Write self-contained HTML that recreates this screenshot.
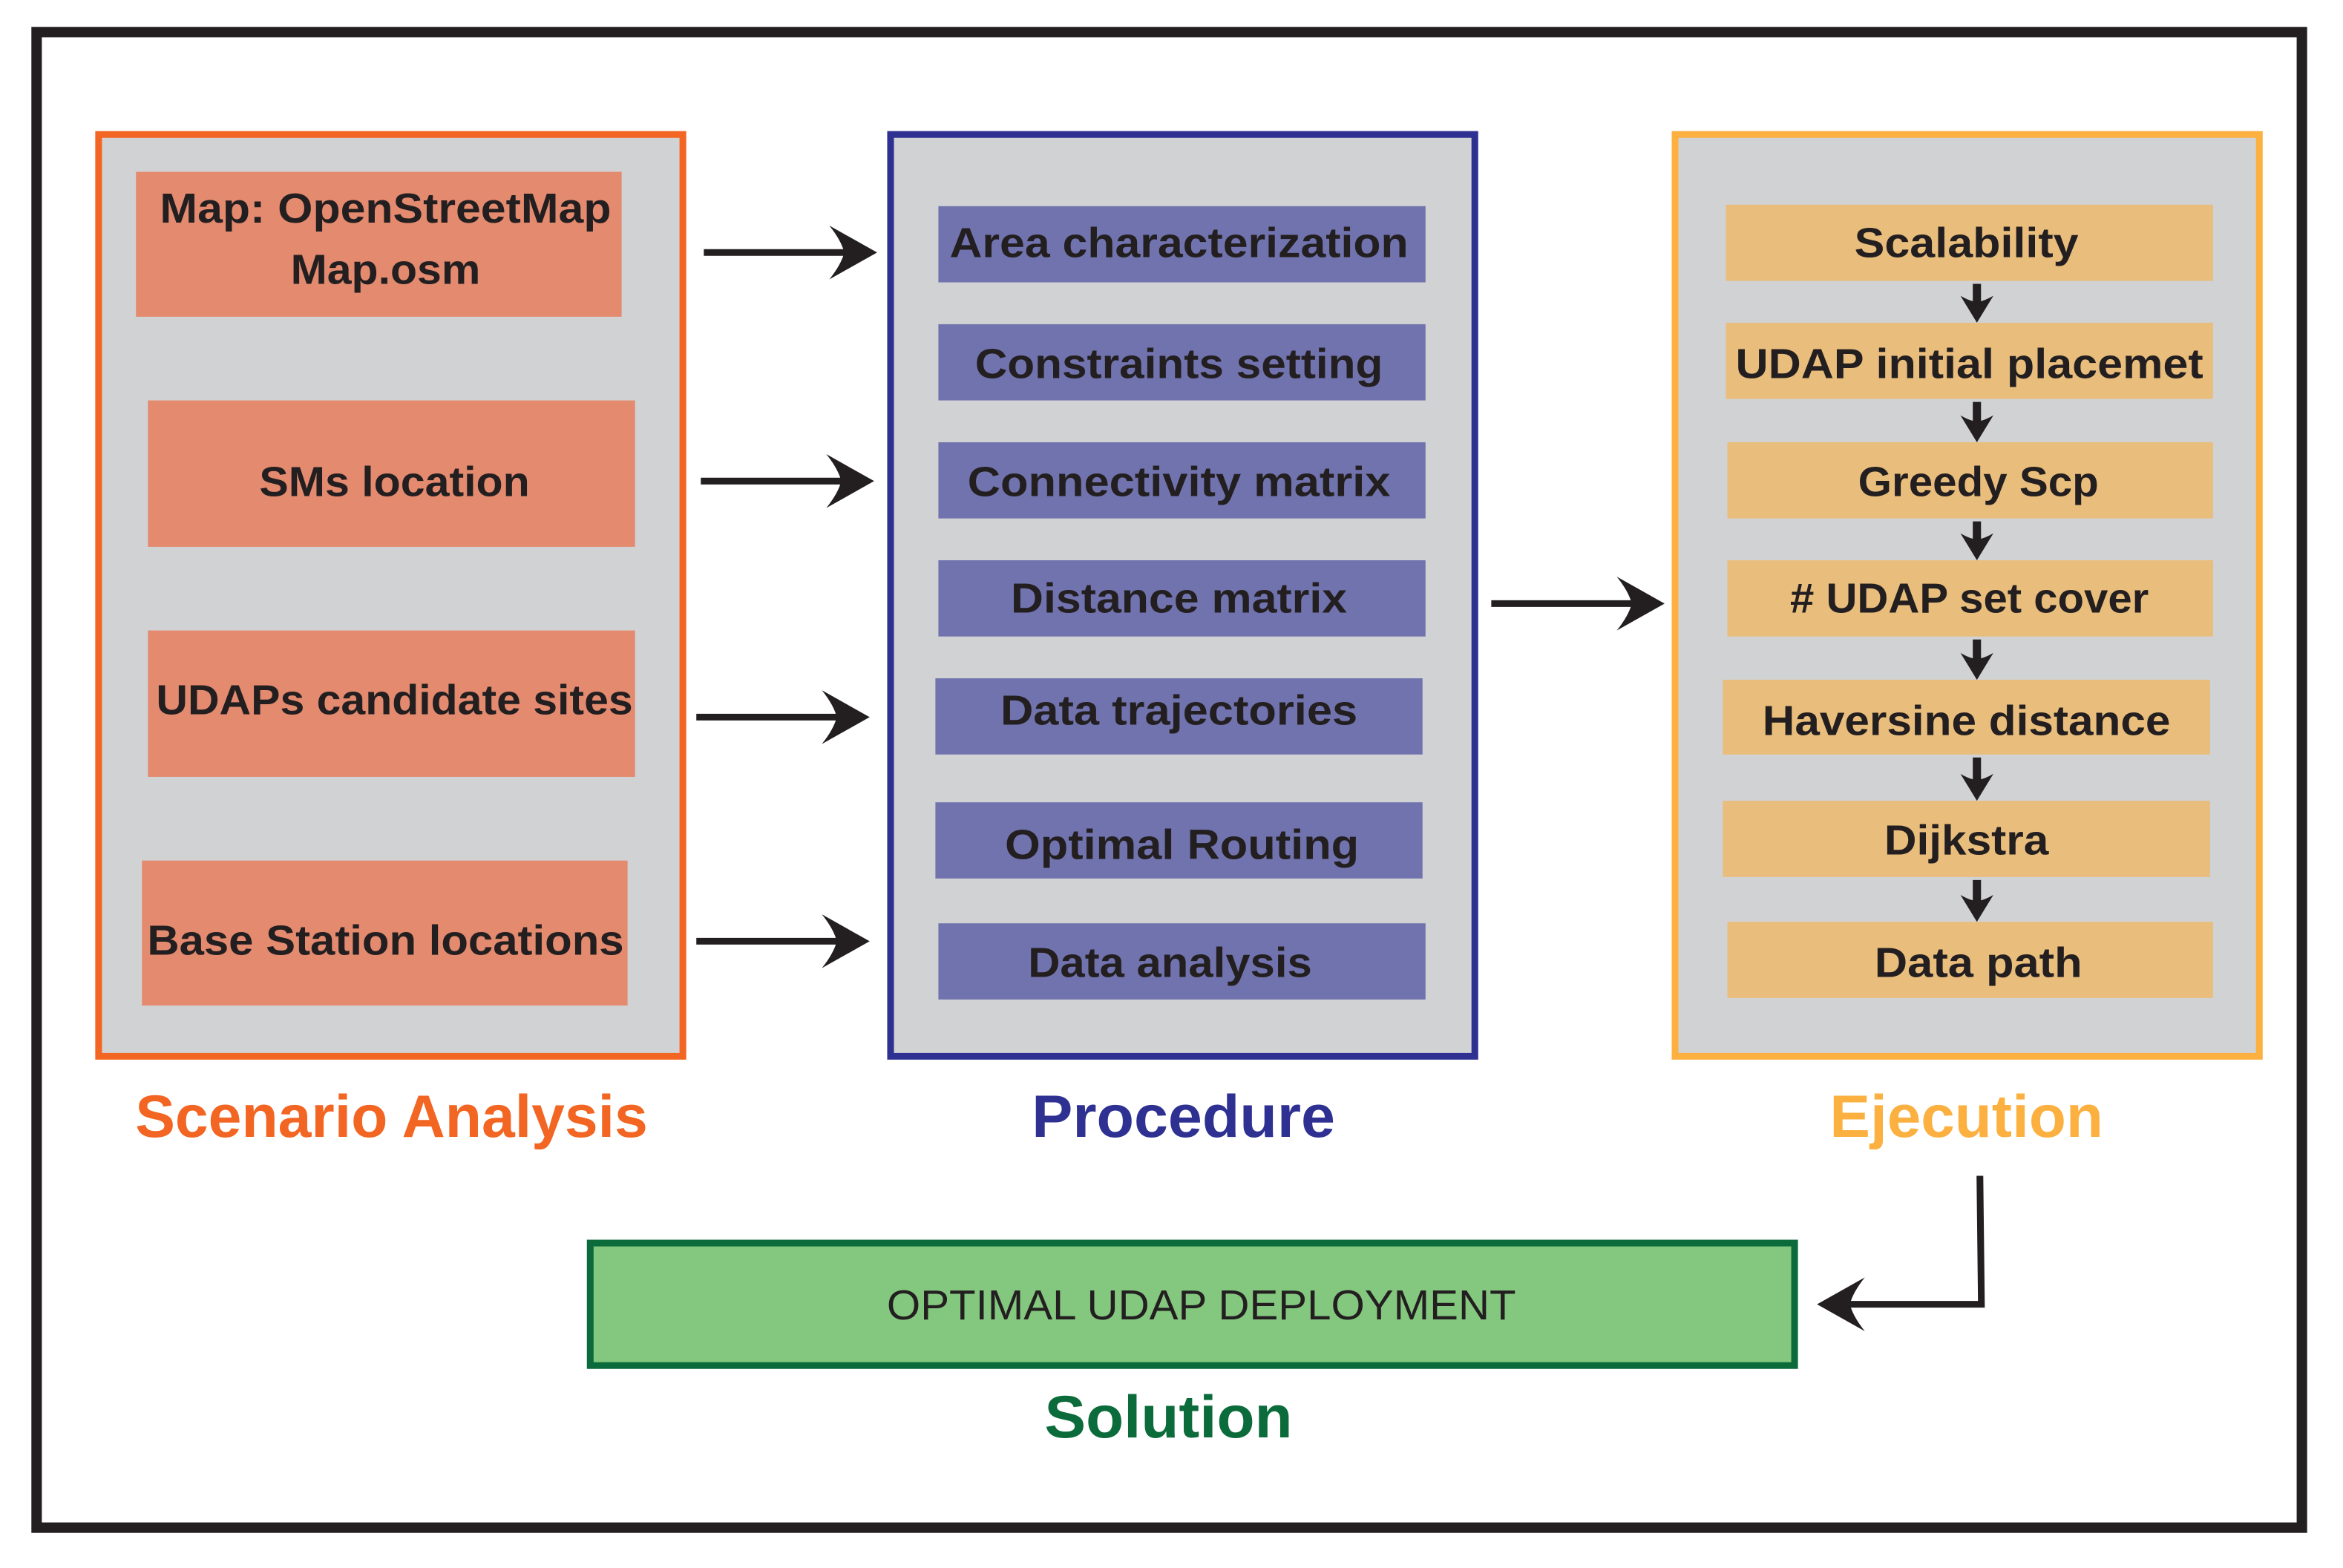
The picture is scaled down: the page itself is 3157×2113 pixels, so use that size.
<!DOCTYPE html>
<html><head><meta charset="utf-8"><style>
html,body{margin:0;padding:0;background:#fff;}
svg{display:block;}
text{font-family:"Liberation Sans",sans-serif;font-weight:bold;}
</style></head><body>
<svg width="3157" height="2113" viewBox="0 0 1568 1049.5" preserveAspectRatio="none" xmlns="http://www.w3.org/2000/svg">
<defs>
<path id="ah" d="M0,0 L-32,-18 Q-24,-8 -22,0 Q-24,8 -32,18 Z" fill="#231f20"/>
<path id="sah" d="M0,0 L-11,-18 Q-4,-14 0,-14 Q4,-14 11,-18 Z" fill="#231f20"/>
</defs>
<rect x="0" y="0" width="1568" height="1049.5" fill="#fff"/>
<rect x="24.5" y="21.5" width="1516" height="1001" fill="none" stroke="#231f20" stroke-width="7"/>

<!-- Scenario -->
<rect x="66" y="90" width="391" height="617" fill="#d1d2d4" stroke="#f26522" stroke-width="4.5"/>
<g fill="#e38a6f">
<rect x="91" y="115" width="325" height="97"/>
<rect x="99" y="268" width="326" height="98"/>
<rect x="99" y="422" width="326" height="98"/>
<rect x="95" y="576" width="325" height="97"/>
</g>
<g fill="#231f20" font-size="28" text-anchor="middle">
<text x="258" y="149" textLength="302" lengthAdjust="spacingAndGlyphs">Map: OpenStreetMap</text>
<text x="258" y="190" textLength="127" lengthAdjust="spacingAndGlyphs">Map.osm</text>
<text x="264" y="332" textLength="181" lengthAdjust="spacingAndGlyphs">SMs location</text>
<text x="264" y="478" textLength="319" lengthAdjust="spacingAndGlyphs">UDAPs candidate sites</text>
<text x="258" y="639" textLength="319" lengthAdjust="spacingAndGlyphs">Base Station locations</text>
</g>

<!-- Procedure -->
<rect x="596" y="90" width="391" height="617" fill="#d1d2d4" stroke="#2e3192" stroke-width="4.5"/>
<g fill="#7173ae">
<rect x="628" y="138" width="326" height="51"/>
<rect x="628" y="217" width="326" height="51"/>
<rect x="628" y="296" width="326" height="51"/>
<rect x="628" y="375" width="326" height="51"/>
<rect x="626" y="454" width="326" height="51"/>
<rect x="626" y="537" width="326" height="51"/>
<rect x="628" y="618" width="326" height="51"/>
</g>
<g fill="#231f20" font-size="28" text-anchor="middle">
<text x="789" y="172" textLength="307" lengthAdjust="spacingAndGlyphs">Area characterization</text>
<text x="789" y="253" textLength="273" lengthAdjust="spacingAndGlyphs">Constraints setting</text>
<text x="789" y="332" textLength="283" lengthAdjust="spacingAndGlyphs">Connectivity matrix</text>
<text x="789" y="410" textLength="225" lengthAdjust="spacingAndGlyphs">Distance matrix</text>
<text x="789" y="485" textLength="239" lengthAdjust="spacingAndGlyphs">Data trajectories</text>
<text x="791" y="575" textLength="237" lengthAdjust="spacingAndGlyphs">Optimal Routing</text>
<text x="783" y="654" textLength="190" lengthAdjust="spacingAndGlyphs">Data analysis</text>
</g>

<!-- Ejecution -->
<rect x="1121" y="90" width="391" height="617" fill="#d1d2d4" stroke="#fbb040" stroke-width="4.5"/>
<g fill="#e9bd7c">
<rect x="1155" y="137" width="326" height="51"/>
<rect x="1155" y="216" width="326" height="51"/>
<rect x="1156" y="296" width="325" height="51"/>
<rect x="1156" y="375" width="325" height="51"/>
<rect x="1153" y="455" width="326" height="50"/>
<rect x="1153" y="536" width="326" height="51"/>
<rect x="1156" y="617" width="325" height="51"/>
</g>
<g fill="#231f20" font-size="28" text-anchor="middle">
<text x="1316" y="172" textLength="150" lengthAdjust="spacingAndGlyphs">Scalability</text>
<text x="1318" y="253" textLength="313" lengthAdjust="spacingAndGlyphs">UDAP initial placemet</text>
<text x="1324" y="332" textLength="161" lengthAdjust="spacingAndGlyphs">Greedy Scp</text>
<text x="1318" y="410" textLength="240" lengthAdjust="spacingAndGlyphs"># UDAP set cover</text>
<text x="1316" y="492" textLength="273" lengthAdjust="spacingAndGlyphs">Haversine distance</text>
<text x="1316" y="572" textLength="110" lengthAdjust="spacingAndGlyphs">Dijkstra</text>
<text x="1324" y="654" textLength="139" lengthAdjust="spacingAndGlyphs">Data path</text>
</g>

<!-- small arrows -->
<g stroke="#231f20" stroke-width="5.5">
<line x1="1323" y1="190" x2="1323" y2="205"/>
<line x1="1323" y1="269" x2="1323" y2="285"/>
<line x1="1323" y1="349" x2="1323" y2="364"/>
<line x1="1323" y1="428" x2="1323" y2="444"/>
<line x1="1323" y1="507" x2="1323" y2="525"/>
<line x1="1323" y1="589" x2="1323" y2="606"/>
</g>
<g>
<use href="#sah" transform="translate(1323,216)"/>
<use href="#sah" transform="translate(1323,296)"/>
<use href="#sah" transform="translate(1323,375)"/>
<use href="#sah" transform="translate(1323,455)"/>
<use href="#sah" transform="translate(1323,536)"/>
<use href="#sah" transform="translate(1323,617)"/>
</g>

<!-- big arrows -->
<g stroke="#231f20" stroke-width="4.5" fill="none">
<line x1="471" y1="169" x2="565" y2="169"/>
<line x1="469" y1="322" x2="563" y2="322"/>
<line x1="466" y1="480" x2="560" y2="480"/>
<line x1="466" y1="630" x2="560" y2="630"/>
<line x1="998" y1="404" x2="1092" y2="404"/>
<polyline points="1325,787 1326,873 1238,873"/>
</g>
<use href="#ah" transform="translate(587,169)"/>
<use href="#ah" transform="translate(585,322)"/>
<use href="#ah" transform="translate(582,480)"/>
<use href="#ah" transform="translate(582,630)"/>
<use href="#ah" transform="translate(1114,404)"/>
<use href="#ah" transform="translate(1216,873) scale(-1,1)"/>

<!-- titles -->
<g font-size="40" text-anchor="middle">
<text x="262" y="761" fill="#f26522" textLength="343" lengthAdjust="spacingAndGlyphs">Scenario Analysis</text>
<text x="792" y="761" fill="#2e3192" textLength="203" lengthAdjust="spacingAndGlyphs">Procedure</text>
<text x="1316" y="761" fill="#fbb040" textLength="183" lengthAdjust="spacingAndGlyphs">Ejecution</text>
<text x="782" y="962" fill="#0b6b3a" textLength="166" lengthAdjust="spacingAndGlyphs">Solution</text>
</g>

<!-- solution box -->
<rect x="395" y="832" width="806" height="82" fill="#84c77f" stroke="#0b6b3a" stroke-width="4.5"/>
<text x="804" y="883" fill="#231f20" font-size="28" text-anchor="middle" style="font-weight:normal" textLength="421" lengthAdjust="spacingAndGlyphs">OPTIMAL UDAP DEPLOYMENT</text>
</svg>
</body></html>
